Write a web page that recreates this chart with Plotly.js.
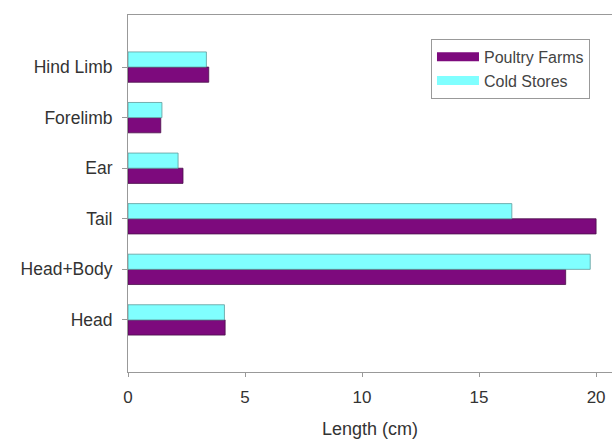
<!DOCTYPE html>
<html>
<head>
<meta charset="utf-8">
<script src="https://cdn.plot.ly/plotly-3.0.1.min.js"></script>
<style>html,body{margin:0;padding:0;background:#fff;}#chart{width:612px;height:439px;}</style>
</head>
<body>
<div id="chart"></div>
<script>
const categories = ["Head", "Head+Body", "Tail", "Ear", "Forelimb", "Hind Limb"];
const poultryFarms = [4.15, 18.7, 20.0, 2.35, 1.4, 3.45];
const coldStores = [4.12, 19.75, 16.4, 2.14, 1.45, 3.35];
const seriesNames = ["Poultry Farms", "Cold Stores"];
const seriesColors = ["#7d0a7d", "#80ffff"];
const xTicks = [0, 5, 10, 15, 20];

const traces = [
  {
    type: "bar", orientation: "h", name: seriesNames[0], showlegend: false,
    y: categories, x: poultryFarms,
    marker: {color: seriesColors[0], line: {color: "#4a104a", width: 0.8}}
  },
  {
    type: "bar", orientation: "h", name: seriesNames[1], showlegend: false,
    y: categories, x: coldStores,
    marker: {color: seriesColors[1], line: {color: "#5f9a9a", width: 0.8}}
  },
  // legend entries (no marks drawn): wide swatches like the original
  {type: "scatter", mode: "lines", name: seriesNames[0], x: [null], y: [null],
   line: {color: seriesColors[0], width: 9}, hoverinfo: "skip"},
  {type: "scatter", mode: "lines", name: seriesNames[1], x: [null], y: [null],
   line: {color: seriesColors[1], width: 9}, hoverinfo: "skip"}
];

const layout = {
  width: 612, height: 439,
  margin: {l: 128, r: 0, t: 15, b: 67},
  paper_bgcolor: "#ffffff", plot_bgcolor: "#ffffff",
  font: {family: "Liberation Sans, Arial, sans-serif", size: 17, color: "#333"},
  barmode: "group", bargap: 0.4, bargroupgap: 0,
  showlegend: true,
  legend: {
    x: 0.626, y: 0.933, xanchor: "left", yanchor: "top",
    bordercolor: "#999", borderwidth: 1, bgcolor: "#fff",
    font: {size: 16, color: "#444"}, traceorder: "normal",
    tracegroupgap: 0, itemwidth: 42
  },
  xaxis: {
    range: [0, 20.68], tickvals: xTicks, ticktext: xTicks.map(String),
    showgrid: false, zeroline: false,
    showline: true, linecolor: "#999", linewidth: 1, mirror: true,
    ticks: "outside", ticklen: 4, tickcolor: "#999", ticklabelstandoff: 6,
    tickfont: {size: 17, color: "#333"},
    title: {text: "Length (cm)", font: {size: 18, color: "#333"}, standoff: 18}
  },
  yaxis: {
    type: "category", range: [-1.03, 6.03],
    showgrid: false, zeroline: false,
    showline: true, linecolor: "#999", linewidth: 1, mirror: true,
    ticks: "outside", ticklen: 5, tickcolor: "#999", ticklabelstandoff: 6,
    tickfont: {size: 17.5, color: "#333"}
  }
};

Plotly.newPlot("chart", traces, layout, {displayModeBar: false, staticPlot: true});
</script>
</body>
</html>
